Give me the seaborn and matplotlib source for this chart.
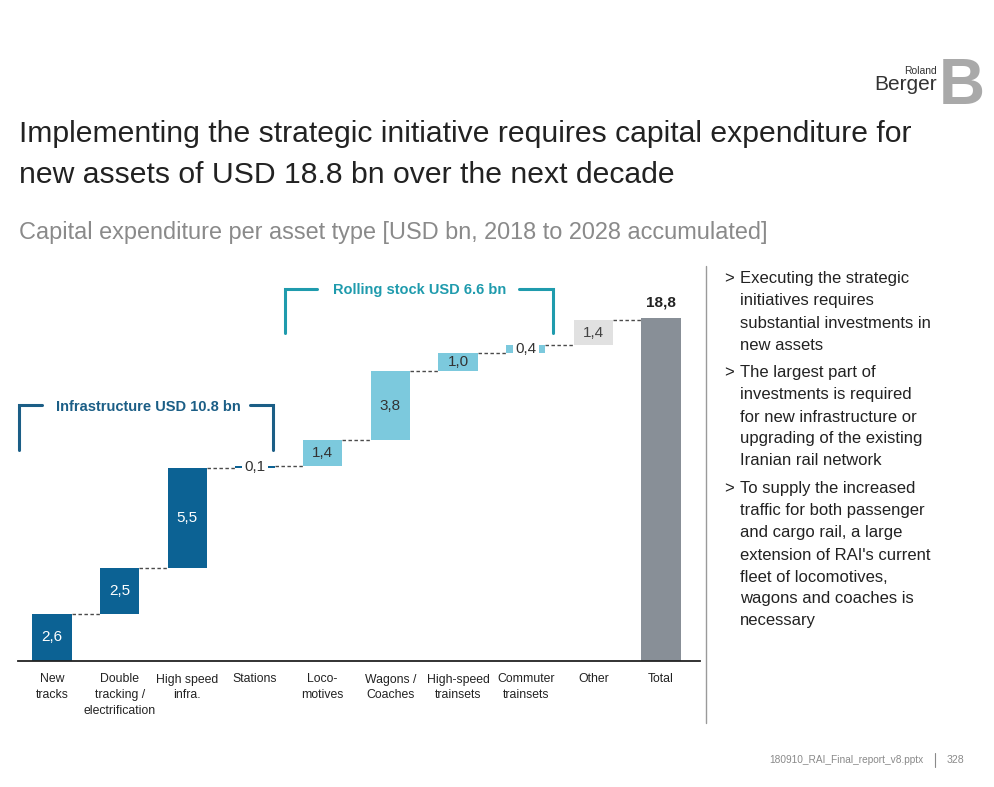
import numpy as np
import pandas as pd
import matplotlib
matplotlib.use("Agg")
import matplotlib.pyplot as plt
from matplotlib import font_manager as fm
from matplotlib.lines import Line2D
import seaborn as sns

# ---------------- data ----------------
categories = ["New\ntracks", "Double\ntracking /\nelectrification", "High speed\ninfra.",
              "Stations", "Loco-\nmotives", "Wagons /\nCoaches", "High-speed\ntrainsets",
              "Commuter\ntrainsets", "Other", "Total"]
values = [2.6, 2.5, 5.5, 0.1, 1.4, 3.8, 1.0, 0.4, 1.4, 18.8]
groups = ["Infrastructure"] * 4 + ["Rolling stock"] * 4 + ["Other", "Total"]
is_total = [False] * 9 + [True]
bracket_infra = "Infrastructure USD 10.8 bn"
bracket_rolling = "Rolling stock USD 6.6 bn"
title_lines = ["Implementing the strategic initiative requires capital expenditure for",
               "new assets of USD 18.8 bn over the next decade"]
subtitle = "Capital expenditure per asset type [USD bn, 2018 to 2028 accumulated]"
bullets = [
    ["Executing the strategic", "initiatives requires", "substantial investments in", "new assets"],
    ["The largest part of", "investments is required", "for new infrastructure or",
     "upgrading of the existing", "Iranian rail network"],
    ["To supply the increased", "traffic for both passenger", "and cargo rail, a large",
     "extension of RAI's current", "fleet of locomotives,", "wagons and coaches is", "necessary"],
]
footer = "180910_RAI_Final_report_v8.pptx"
page = "328"

# ---------------- style ----------------
sns.set_theme(style="white")


def has_font(name):
    try:
        fm.findfont(fm.FontProperties(family=name), fallback_to_default=False)
        return True
    except Exception:
        return False


NARROW = "Liberation Sans Narrow" if has_font("Liberation Sans Narrow") else "Liberation Sans"
scale = 1.0 if NARROW == "Liberation Sans Narrow" else 0.84
plt.rcParams["font.family"] = [NARROW, "DejaVu Sans"]

group_colors = {"Infrastructure": "#0c6294", "Rolling stock": "#7cc9dd",
                "Other": "#e1e1e1", "Total": "#888f97"}
label_colors = {"Infrastructure": "white", "Rolling stock": "#333333",
                "Other": "#444444", "Total": "#222222"}
DARK = "#333333"

W, H = 995, 787
fig = plt.figure(figsize=(W / 100, H / 100), dpi=100)
fig.patch.set_facecolor("white")


def fx(x):
    return x / W


def fy(y):
    return 1 - y / H


# ---------------- waterfall ----------------
tops = []
bases = []
run = 0.0
for v, t in zip(values, is_total):
    if t:
        bases.append(0.0)
        tops.append(v)
    else:
        bases.append(run)
        run += v
        tops.append(run)

df = pd.DataFrame({"cat": categories, "val": values, "grp": groups})
palette = {c: group_colors[g] for c, g in zip(categories, groups)}

ax_l, ax_r, ax_b, ax_t = 18, 700, 661, 270
ax = fig.add_axes([fx(ax_l), fy(ax_b), (ax_r - ax_l) / W, (ax_b - ax_t) / H])
sns.barplot(data=df, x="cat", y="val", hue="cat", palette=palette, legend=False,
            width=0.58, order=categories, hue_order=categories, ax=ax,
            linewidth=0, saturation=1)

# shift bars to their waterfall bases
for p, b in zip(ax.patches, bases):
    p.set_y(b)

px_per_unit = 343 / 18.8
ax.set_ylim(0, (ax_b - ax_t) / px_per_unit)
spacing = 67.67
ax.set_xlim((ax_l - 52) / spacing, (ax_r - 52) / spacing)

for s in ["top", "right", "left"]:
    ax.spines[s].set_visible(False)
ax.spines["bottom"].set_color("#222222")
ax.spines["bottom"].set_linewidth(1.3)
ax.set_yticks([])
ax.set_xlabel("")
ax.set_ylabel("")
ax.tick_params(axis="x", length=0, pad=9)
ax.set_xticks(range(len(categories)))
ax.set_xticklabels(categories, fontsize=10.5 * scale, color="#222222")
for lab in ax.get_xticklabels():
    lab.set_linespacing(1.42)

# connectors
half = 0.29
for i in range(len(values) - 1):
    lvl = tops[i]
    ax.plot([i + half, i + 1 - half], [lvl, lvl], color="#4a4a4a", lw=1.0,
            dashes=(2.5, 1.8), solid_capstyle="butt")

# value labels
vfs = 11.0
for i, (v, b, g) in enumerate(zip(values, bases, groups)):
    txt = f"{v:.1f}".replace(".", ",")
    if g == "Total":
        ax.text(i, v + 0.45, txt, ha="center", va="bottom", fontsize=vfs,
                fontweight="bold", color="#222222")
    elif v < 0.8:
        ax.text(i, b + v / 2, txt, ha="center", va="center", fontsize=vfs,
                color=DARK, bbox=dict(boxstyle="square,pad=0.15", fc="white", ec="none"))
    else:
        ax.text(i, b + v / 2, txt, ha="center", va="center", fontsize=vfs,
                color=label_colors[g])

# ---------------- brackets ----------------
def bracket(x0, x1, y_top, y_bot, t0, t1, label, color, ty):
    lw = 2.2
    fig.add_artist(Line2D([fx(x0), fx(x0), fx(t0)], [fy(y_bot), fy(y_top), fy(y_top)],
                          color=color, lw=lw, solid_joinstyle="miter"))
    fig.add_artist(Line2D([fx(t1), fx(x1), fx(x1)], [fy(y_top), fy(y_top), fy(y_bot)],
                          color=color, lw=lw, solid_joinstyle="miter"))
    fig.text(fx((t0 + t1) / 2 + 2), fy(ty), label, ha="center", va="center",
             fontsize=10.5, fontweight="bold", color=color)


bracket(19, 273, 405, 450, 42, 250, bracket_infra, "#1b5e86", 407)
bracket(285, 553, 289, 333, 317, 519, bracket_rolling, "#1f9bad", 290)

# ---------------- titles ----------------
fig.text(fx(19), fy(142), title_lines[0], ha="left", va="baseline", fontsize=21.7,
         color="#222222")
fig.text(fx(19), fy(183), title_lines[1], ha="left", va="baseline", fontsize=21.7,
         color="#222222")
fig.text(fx(19), fy(239), subtitle, ha="left", va="baseline", fontsize=16.9,
         color="#8a8a8a")

# ---------------- right panel ----------------
fig.add_artist(Line2D([fx(706), fx(706)], [fy(266), fy(723)], color="#9a9a9a", lw=1))
y = 279
rfs = 12.0
for blk in bullets:
    fig.text(fx(724), fy(y), ">", ha="left", va="center", fontsize=rfs, color="#222222")
    for line in blk:
        fig.text(fx(740), fy(y), line, ha="left", va="center", fontsize=rfs,
                 color="#222222")
        y += 22
    y += 6

# ---------------- footer ----------------
fig.text(fx(924), fy(760), footer, ha="right", va="center", fontsize=7.3, color="#8a8a8a")
fig.add_artist(Line2D([fx(935), fx(935)], [fy(753), fy(767)], color="#8a8a8a", lw=0.8))
fig.text(fx(947), fy(760), page, ha="left", va="center", fontsize=7.6, color="#8a8a8a")

# ---------------- logo ----------------
fig.text(fx(937), fy(71), "Roland", ha="right", va="center", fontsize=7.5,
         family="Liberation Sans", color="#333333")
fig.text(fx(937), fy(84), "Berger", ha="right", va="center", fontsize=15,
         family="Liberation Sans", color="#333333")
fig.text(fx(939), fy(104), "B", ha="left", va="baseline", fontsize=46,
         family="Liberation Sans", fontweight="bold", color="#a9a9a9")

fig.savefig("out.png", dpi=100, facecolor="white")
